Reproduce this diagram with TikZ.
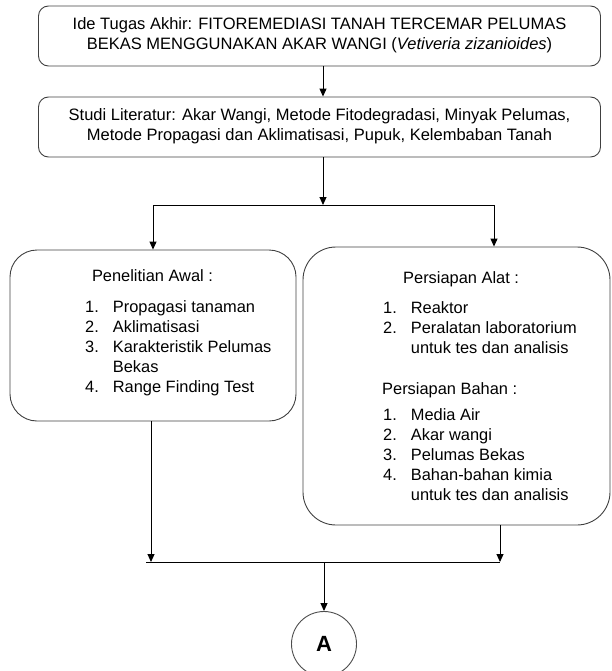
\documentclass[tikz,border=0pt]{standalone}
\usepackage{fontspec}
\setmainfont{Liberation Sans}
\usetikzlibrary{arrows.meta}
\begin{document}
\begin{tikzpicture}[x=1pt,y=-1pt,
  box/.style={draw=black!75, line width=0.9pt, inner sep=0pt},
  conn/.style={draw=black, line width=1pt},
  arr/.style={conn, -{Triangle[width=7pt,length=8pt]}},
  txt/.style={inner sep=0pt, anchor=base, font=\fontsize{16.5}{20}\selectfont},
  ltxt/.style={inner sep=0pt, anchor=base west, font=\fontsize{16.4}{20}\selectfont}]
\useasboundingbox (0,0) rectangle (611,671);

% boxes
\node[box, rounded corners=10pt, minimum width=562pt, minimum height=60pt] (b1) at (319.5,36) {};
\node[box, rounded corners=10pt, minimum width=562pt, minimum height=60pt] (b2) at (319.5,127) {};
\node[box, rounded corners=27pt, minimum width=286pt, minimum height=171pt] (b3) at (153,335.5) {};
\node[box, rounded corners=33pt, minimum width=307pt, minimum height=278pt] (b4) at (456.5,386) {};

% texts
\node[txt] (t1) at (319.5,30) {\begin{tabular}[t]{@{}c@{}}Ide Tugas Akhir: FITOREMEDIASI TANAH TERCEMAR PELUMAS\\ BEKAS MENGGUNAKAN AKAR WANGI (\textit{Vetiveria zizanioides})\end{tabular}};
\node[txt] (t2) at (319.5,120.7) {\begin{tabular}[t]{@{}c@{}}Studi Literatur: Akar Wangi, Metode Fitodegradasi, Minyak Pelumas,\\ Metode Propagasi dan Aklimatisasi, Pupuk, Kelembaban Tanah\end{tabular}};

\node[txt, font=\fontsize{16.4}{20}\selectfont] (t3) at (152.5,281.7) {Penelitian Awal :};
\node[ltxt] (l3) at (85,312.7) {\begin{tabular}[t]{@{}l@{\hspace{14pt}}l@{}}1.&Propagasi tanaman\\ 2.&Aklimatisasi\\ 3.&Karakteristik Pelumas\\ &Bekas\\ 4.&Range Finding Test\end{tabular}};

\node[ltxt] (t4) at (403,283.3) {Persiapan Alat :};
\node[ltxt] (l4) at (383,313.3) {\begin{tabular}[t]{@{}l@{\hspace{14pt}}l@{}}1.&Reaktor\\ 2.&Peralatan laboratorium\\ &untuk tes dan analisis\end{tabular}};
\node[ltxt] (t5) at (382,394) {Persiapan Bahan :};
\node[ltxt] (l5) at (383,420.5) {\begin{tabular}[t]{@{}l@{\hspace{14pt}}l@{}}1.&Media Air\\ 2.&Akar wangi\\ 3.&Pelumas Bekas\\ 4.&Bahan-bahan kimia\\ &untuk tes dan analisis\end{tabular}};

% circle
\node[circle, draw=black!70, line width=0.9pt, minimum size=65pt, inner sep=0pt, font=\fontsize{22}{22}\selectfont\bfseries] (cA) at (324,644) {A};

% junctions
\coordinate (j1) at (323,205);
\coordinate (jl) at (153,205);
\coordinate (jr) at (494,205);
\coordinate (kl) at (151,562);
\coordinate (kr) at (500,562);
\coordinate (kc) at (324,562);
\coordinate (ke) at (146,562);

% connectors
\draw[arr] (j1 |- b1.south) -- (j1 |- b2.north);
\draw[arr] (j1 |- b2.south) -- (j1);
\draw[conn] (jl) -- (jr);
\draw[arr] (jl) -- (b3.north);
\draw[arr] (jr) -- (jr |- b4.north);
\draw[arr] (kl |- b3.south) -- (kl);
\draw[arr] (kr |- b4.south) -- (kr);
\draw[conn] (ke) -- (kr);
\draw[arr] (kc) -- (cA.north);
\end{tikzpicture}
\end{document}
